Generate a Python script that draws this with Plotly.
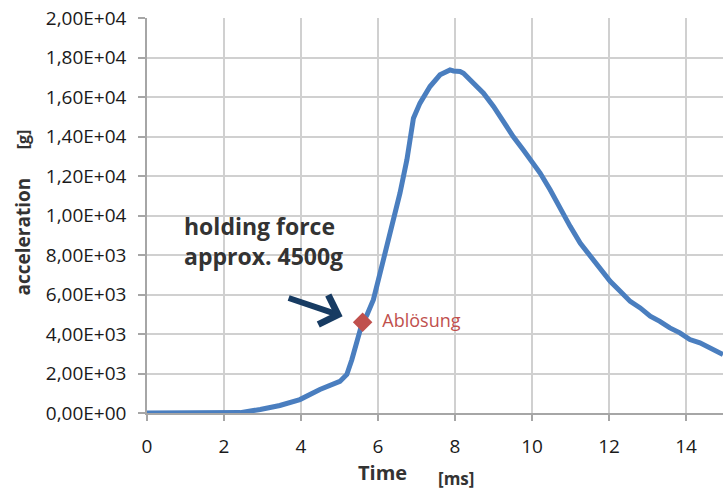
import plotly.graph_objects as go

# Measured acceleration pulse
time_ms = [0, 1.0, 2.0, 2.42, 2.94, 3.45, 3.97, 4.49, 5.01, 5.19, 5.32, 5.45,
           5.58, 5.71, 5.88, 6.14, 6.36, 6.57, 6.75, 6.88, 6.92, 7.09, 7.35,
           7.61, 7.87, 7.96, 8.13, 8.22, 8.48, 8.74, 9.0, 9.25, 9.51, 9.77,
           10.03, 10.21, 10.47, 10.73, 10.99, 11.25, 11.51, 11.77, 12.03,
           12.29, 12.55, 12.81, 13.07, 13.32, 13.58, 13.84, 14.10, 14.36,
           14.62, 14.96]
accel_g = [0, 0, 0, 20, 180, 380, 680, 1190, 1600, 1950, 2700, 3700,
           4500, 4950, 5740, 7760, 9450, 11130, 12820, 14500, 14930, 15690, 16530,
           17120, 17370, 17320, 17290, 17200, 16700, 16190, 15520, 14760, 14000, 13330,
           12650, 12150, 11300, 10350, 9450, 8600, 7930, 7260, 6670,
           6160, 5650, 5320, 4900, 4640, 4310, 4060, 3720, 3550,
           3300, 2960]

# Release point
release_time = [5.6]
release_acc = [4600]
release_label = "Ablösung"

x_ticks = [0, 2, 4, 6, 8, 10, 12, 14]
y_ticks = [0, 2000, 4000, 6000, 8000, 10000, 12000, 14000, 16000, 18000, 20000]
y_ticktext = ["0,00E+00", "2,00E+03", "4,00E+03", "6,00E+03", "8,00E+03",
              "1,00E+04", "1,20E+04", "1,40E+04", "1,60E+04", "1,80E+04", "2,00E+04"]

FONT = "Open Sans"

fig = go.Figure()
fig.add_trace(go.Scatter(
    x=time_ms, y=accel_g, mode="lines",
    line=dict(color="#4A7EBF", width=5),
    showlegend=False, hoverinfo="skip",
))
fig.add_trace(go.Scatter(
    x=release_time, y=release_acc, mode="markers+text",
    marker=dict(symbol="diamond", size=15, color="#C0504D"),
    text=["  " + release_label], textposition="middle right",
    textfont=dict(family=FONT, size=18, color="#C0504D"),
    showlegend=False, hoverinfo="skip", cliponaxis=False,
))

fig.update_layout(
    width=723, height=489,
    margin=dict(l=147, r=0, t=18, b=76),
    paper_bgcolor="white", plot_bgcolor="white",
    font=dict(family=FONT, color="#1a1a1a"),
    xaxis=dict(
        range=[0, 14.96], tickvals=x_ticks, ticktext=[str(v) for v in x_ticks],
        showgrid=True, gridcolor="#D0D0D0", gridwidth=1.5,
        showline=True, linecolor="#A6A6A6", linewidth=1.5,
        ticks="outside", ticklen=6, tickcolor="#A6A6A6", tickwidth=1.5,
        tickfont=dict(family=FONT, size=19, color="#1a1a1a"),
        ticklabelstandoff=9, zeroline=False,
    ),
    yaxis=dict(
        range=[0, 20000], tickvals=y_ticks, ticktext=y_ticktext,
        showgrid=True, gridcolor="#D0D0D0", gridwidth=1.5,
        showline=True, linecolor="#A6A6A6", linewidth=1.5,
        ticks="outside", ticklen=7, tickcolor="#A6A6A6", tickwidth=1.5,
        tickfont=dict(family=FONT, size=19, color="#1a1a1a"),
        ticklabelstandoff=8, zeroline=False,
    ),
)

# Axis titles
fig.add_annotation(xref="paper", yref="paper", x=-0.216, y=0.446,
                   xanchor="center", yanchor="middle",
                   text="<b>acceleration</b>", textangle=-90, showarrow=False,
                   font=dict(family=FONT, size=19, color="#333333"))
fig.add_annotation(xref="paper", yref="paper", x=-0.216, y=0.692,
                   xanchor="center", yanchor="middle",
                   text="<b>[g]</b>", textangle=-90, showarrow=False,
                   font=dict(family=FONT, size=16, color="#333333"))
fig.add_annotation(xref="paper", yref="paper", x=0.408, y=-0.151,
                   xanchor="center", yanchor="middle",
                   text="<b>Time</b>", showarrow=False,
                   font=dict(family=FONT, size=20, color="#333333"))
fig.add_annotation(xref="paper", yref="paper", x=0.536, y=-0.167,
                   xanchor="center", yanchor="middle",
                   text="<b>[ms]</b>", showarrow=False,
                   font=dict(family=FONT, size=17, color="#333333"))

# Callout
fig.add_annotation(x=0.92, y=10400, xref="x", yref="y",
                   xanchor="left", yanchor="top", align="left",
                   text="<b>holding force<br>approx. 4500g</b>", showarrow=False,
                   font=dict(family=FONT, size=23, color="#333333"))
fig.add_annotation(x=5.08, y=4900, ax=3.64, ay=5850,
                   xref="x", yref="y", axref="x", ayref="y",
                   text="", showarrow=True, arrowhead=4, arrowsize=1.0,
                   arrowwidth=6, arrowcolor="#173B62")

fig.write_html("out.html")
